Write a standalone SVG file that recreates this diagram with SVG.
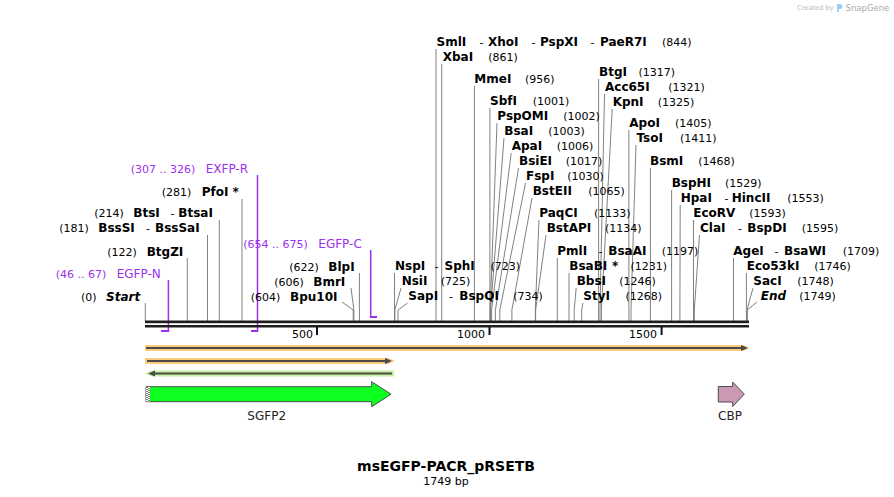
<svg xmlns="http://www.w3.org/2000/svg" width="894" height="497" viewBox="0 0 894 497">
<style>
text { font-family: "DejaVu Sans", Verdana, sans-serif; fill:#000; }
.e { font-size:12px; font-weight:bold; }
.ei { font-size:12px; font-weight:bold; font-style:italic; }
.c { font-size:11px; }
.pn { font-size:11px; fill:#9b30f0; }
.pl { font-size:12px; fill:#9b30f0; }
.cut { fill:none; stroke:#808080; stroke-width:1; }
.pb { fill:none; stroke:#9b30f0; stroke-width:1.5; }
.pbh { fill:none; stroke:#9b30f0; stroke-width:2; }
.tick { stroke:#111; stroke-width:2; }
.num { font-size:11px; text-anchor:end; }
.fl { font-size:12px; text-anchor:middle; fill:#222; }
.axl { fill:none; stroke:#4a4a4a; stroke-width:2; }
</style>
<rect width="894" height="497" fill="#fff"/>

<g id="watermark">
<text x="797" y="10" style="font-size:6.7px;fill:#bbb">Created by</text>
<path d="M837,4 h3 a2.5,2.5 0 0 1 0,5 h-1.2 v3 h-1.8 z" fill="#9fd0f0"/>
<text x="845.5" y="10.5" style="font-size:8.5px;fill:#aaa">SnapGene</text>
</g>

<g id="connectors">
<path class="cut" d="M436,49 V321"/>
<path class="cut" d="M441.7,64 V321"/>
<path class="cut" d="M474.4,86 V321"/>
<path class="cut" d="M489.9,108 V321"/>
<path class="cut" d="M497,123 L490.2,310 V321"/>
<path class="cut" d="M504,138 L490.5,310 V321"/>
<path class="cut" d="M511.2,153 L491.6,310 V321"/>
<path class="cut" d="M518.5,168 L495.4,310 V321"/>
<path class="cut" d="M525.5,183 L499.8,310 V321"/>
<path class="cut" d="M532,198 L511.9,310 V321"/>
<path class="cut" d="M539,220 L535.3,310 V321"/>
<path class="cut" d="M546,235 L535.6,310 V321"/>
<path class="cut" d="M557.3,258 V321"/>
<path class="cut" d="M569,273 V321"/>
<path class="cut" d="M576.2,288 L574.2,310 V321"/>
<path class="cut" d="M583,303 L581.7,310 V321"/>
<path class="cut" d="M598.6,79 V321"/>
<path class="cut" d="M604.5,94 L600,310 V321"/>
<path class="cut" d="M612.2,109 L601.4,310 V321"/>
<path class="cut" d="M628.9,130 V321"/>
<path class="cut" d="M636,145 L631,310 V321"/>
<path class="cut" d="M650.4,168 V321"/>
<path class="cut" d="M671.6,190 V321"/>
<path class="cut" d="M680.2,205 L679.9,310 V321"/>
<path class="cut" d="M693.5,220 V321"/>
<path class="cut" d="M699.5,235 L694.3,310 V321"/>
<path class="cut" d="M733.5,258 V321"/>
<path class="cut" d="M746.4,273 V321"/>
<path class="cut" d="M753,288 L747,310 V321"/>
<path class="cut" d="M757,302 L747.3,310 V321"/>
<path class="cut" d="M394.5,273 V321"/>
<path class="cut" d="M401,288 L394.9,310 V321"/>
<path class="cut" d="M407.5,303 L398,310 V321"/>
<path class="cut" d="M145.3,303 V321"/>
<path class="cut" d="M187.3,258 V321"/>
<path class="cut" d="M207.5,235 V321"/>
<path class="cut" d="M219.3,220 V321"/>
<path class="cut" d="M242,199 V321"/>
<path class="cut" d="M342,302 L353.2,310 V321"/>
<path class="cut" d="M351,288 L353.9,310 V321"/>
<path class="cut" d="M359.4,273 V321"/>
<path class="pb" d="M168.4,280 V331"/><path class="pbh" d="M169.2,331 H161"/>
<path class="pb" d="M257.5,175 V331"/><path class="pbh" d="M258.3,331 H251"/>
<path class="pb" d="M370.7,250 V317"/><path class="pbh" d="M369.9,317 H377"/>
</g>

<g id="backbone">
<rect x="145" y="320.5" width="604" height="2.7" fill="#1e1e1e"/>
<rect x="145" y="325" width="604" height="2.5" fill="#1e1e1e"/>
<line class="tick" x1="317" y1="327" x2="317" y2="335"/>
<line class="tick" x1="489.5" y1="327" x2="489.5" y2="335"/>
<line class="tick" x1="661.6" y1="327" x2="661.6" y2="335"/>
<text class="num" x="313" y="337.5">500</text>
<text class="num" x="485" y="337.5">1000</text>
<text class="num" x="657" y="337.5">1500</text>
</g>

<g id="site-SmlI"><text class="e" x="436.5" y="46">SmlI</text><text class="c" x="479.5" y="46">-</text><text class="e" x="488" y="46">XhoI</text><text class="c" x="531.5" y="46">-</text><text class="e" x="540" y="46">PspXI</text><text class="c" x="590.5" y="46">-</text><text class="e" x="600" y="46">PaeR7I</text><text class="c" x="662" y="46">(844)</text></g>
<g id="site-XbaI"><text class="e" x="442.7" y="61">XbaI</text><text class="c" x="488.3" y="61">(861)</text></g>
<g id="site-MmeI"><text class="e" x="474.3" y="83">MmeI</text><text class="c" x="525" y="83">(956)</text></g>
<g id="site-SbfI"><text class="e" x="490" y="105">SbfI</text><text class="c" x="532.7" y="105">(1001)</text></g>
<g id="site-PspOMI"><text class="e" x="497.3" y="120">PspOMI</text><text class="c" x="563.3" y="120">(1002)</text></g>
<g id="site-BsaI"><text class="e" x="504.3" y="135">BsaI</text><text class="c" x="548.3" y="135">(1003)</text></g>
<g id="site-ApaI"><text class="e" x="511.7" y="150">ApaI</text><text class="c" x="556.7" y="150">(1006)</text></g>
<g id="site-BsiEI"><text class="e" x="519" y="165">BsiEI</text><text class="c" x="565.7" y="165">(1017)</text></g>
<g id="site-FspI"><text class="e" x="526" y="180">FspI</text><text class="c" x="567.3" y="180">(1030)</text></g>
<g id="site-BstEII"><text class="e" x="532.7" y="195">BstEII</text><text class="c" x="588.3" y="195">(1065)</text></g>
<g id="site-PaqCI"><text class="e" x="539.3" y="217">PaqCI</text><text class="c" x="594" y="217">(1133)</text></g>
<g id="site-BstAPI"><text class="e" x="546.7" y="232">BstAPI</text><text class="c" x="605" y="232">(1134)</text></g>
<g id="site-PmlI"><text class="e" x="557.3" y="255">PmlI</text><text class="c" x="598.5" y="255">-</text><text class="e" x="608.3" y="255">BsaAI</text><text class="c" x="661.7" y="255">(1197)</text></g>
<g id="site-BsaBI"><text class="e" x="569.3" y="270">BsaBI</text><text class="e" x="612" y="270">*</text><text class="c" x="630.5" y="270">(1231)</text></g>
<g id="site-BbsI"><text class="e" x="576.7" y="285">BbsI</text><text class="c" x="619.3" y="285">(1246)</text></g>
<g id="site-StyI"><text class="e" x="583.3" y="300">StyI</text><text class="c" x="625.5" y="300">(1268)</text></g>
<g id="site-BtgI"><text class="e" x="599" y="76">BtgI</text><text class="c" x="638.5" y="76">(1317)</text></g>
<g id="site-Acc65I"><text class="e" x="605" y="91">Acc65I</text><text class="c" x="668.3" y="91">(1321)</text></g>
<g id="site-KpnI"><text class="e" x="612.7" y="106">KpnI</text><text class="c" x="657.7" y="106">(1325)</text></g>
<g id="site-ApoI"><text class="e" x="629.3" y="127">ApoI</text><text class="c" x="675" y="127">(1405)</text></g>
<g id="site-TsoI"><text class="e" x="636.5" y="142">TsoI</text><text class="c" x="680" y="142">(1411)</text></g>
<g id="site-BsmI"><text class="e" x="650" y="165">BsmI</text><text class="c" x="698.3" y="165">(1468)</text></g>
<g id="site-BspHI"><text class="e" x="671.7" y="187">BspHI</text><text class="c" x="725" y="187">(1529)</text></g>
<g id="site-HpaI"><text class="e" x="680.7" y="202">HpaI</text><text class="c" x="724.5" y="202">-</text><text class="e" x="731.7" y="202">HincII</text><text class="c" x="787.3" y="202">(1553)</text></g>
<g id="site-EcoRV"><text class="e" x="693.3" y="217">EcoRV</text><text class="c" x="749.3" y="217">(1593)</text></g>
<g id="site-ClaI"><text class="e" x="700" y="232">ClaI</text><text class="c" x="738" y="232">-</text><text class="e" x="747.3" y="232">BspDI</text><text class="c" x="801.7" y="232">(1595)</text></g>
<g id="site-AgeI"><text class="e" x="733.3" y="255">AgeI</text><text class="c" x="774.5" y="255">-</text><text class="e" x="784" y="255">BsaWI</text><text class="c" x="842.7" y="255">(1709)</text></g>
<g id="site-Eco53kI"><text class="e" x="746.7" y="270">Eco53kI</text><text class="c" x="814.3" y="270">(1746)</text></g>
<g id="site-SacI"><text class="e" x="753.3" y="285">SacI</text><text class="c" x="797.3" y="285">(1748)</text></g>
<g id="site-End"><text class="ei" x="760.7" y="300">End</text><text class="c" x="799.3" y="300">(1749)</text></g>
<g id="site-NspI"><text class="e" x="395" y="270">NspI</text><text class="c" x="434.5" y="270">-</text><text class="e" x="444.5" y="270">SphI</text><text class="c" x="490.5" y="270">(723)</text></g>
<g id="site-NsiI"><text class="e" x="401.7" y="285">NsiI</text><text class="c" x="440.7" y="285">(725)</text></g>
<g id="site-SapI"><text class="e" x="408.3" y="300">SapI</text><text class="c" x="449" y="300">-</text><text class="e" x="459.3" y="300">BspQI</text><text class="c" x="513.3" y="300">(734)</text></g>

<g id="site-Start"><text class="c" x="81" y="301">(0)</text><text class="ei" x="106" y="301">Start</text></g>
<g id="site-BtgZI"><text class="c" x="107.3" y="256">(122)</text><text class="e" x="146.7" y="256">BtgZI</text></g>
<g id="site-BssSI"><text class="c" x="59.3" y="232">(181)</text><text class="e" x="98.3" y="232">BssSI</text><text class="c" x="146" y="232">-</text><text class="e" x="155" y="232">BssSaI</text></g>
<g id="site-BtsI"><text class="c" x="94.3" y="217">(214)</text><text class="e" x="133.3" y="217">BtsI</text><text class="c" x="170.5" y="217">-</text><text class="e" x="178.3" y="217">BtsaI</text></g>
<g id="site-PfoI"><text class="c" x="161.7" y="196">(281)</text><text class="e" x="201.7" y="196">PfoI</text><text class="e" x="232.5" y="196">*</text></g>
<g id="site-Bpu10I"><text class="c" x="250.7" y="301">(604)</text><text class="e" x="290" y="301">Bpu10I</text></g>
<g id="site-BmrI"><text class="c" x="274.3" y="286">(606)</text><text class="e" x="313.3" y="286">BmrI</text></g>
<g id="site-BlpI"><text class="c" x="289.3" y="271">(622)</text><text class="e" x="328.3" y="271">BlpI</text></g>

<g id="primer-EGFP-N"><text class="pn" x="55.7" y="278">(46 .. 67)</text><text class="pl" x="116.7" y="278">EGFP-N</text></g>
<g id="primer-EXFP-R"><text class="pn" x="130.7" y="172.5">(307 .. 326)</text><text class="pl" x="205.7" y="172.5">EXFP-R</text></g>
<g id="primer-EGFP-C"><text class="pn" x="243.3" y="248">(654 .. 675)</text><text class="pl" x="318.3" y="248">EGFP-C</text></g>

<g id="orf-1">
<path d="M145,345 H743 L750,348 L743,351 H145 Z" fill="#fcca7d"/>
<line class="axl" x1="146" y1="348" x2="743" y2="348"/>
<path d="M741,345 L748,348 L741,351 Z" fill="#4a4a4a"/>
</g>
<g id="orf-2">
<path d="M145,358 H388 L395,361 L388,364 H145 Z" fill="#fcca7d"/>
<line class="axl" x1="147" y1="361" x2="387" y2="361"/>
<path d="M385,358 L392,361 L385,364 Z" fill="#4a4a4a"/>
</g>
<g id="orf-3">
<path d="M145,373.5 L152,370.5 H394 V376.5 H152 Z" fill="#c4efa0"/>
<line class="axl" x1="153" y1="373.5" x2="392" y2="373.5"/>
<path d="M155,370.5 L148,373.5 L155,376.5 Z" fill="#4a4a4a"/>
</g>

<g id="feature-SGFP2">
<path d="M146,386.7 H371.7 V381.7 L391,394.2 L371.7,406.7 V401.7 H146 Z" fill="#0dff1f" stroke="#4d4d4d" stroke-width="1"/>
<rect x="146" y="387" width="4" height="14.5" fill="#fff"/>
<line x1="147" y1="387" x2="147" y2="401.5" stroke="#000" stroke-width="1" stroke-dasharray="1,1"/>
<line x1="149" y1="388" x2="149" y2="401.5" stroke="#000" stroke-width="1" stroke-dasharray="1,1"/>
<text class="fl" x="266.7" y="419.5">SGFP2</text>
</g>
<g id="feature-CBP">
<path d="M718.3,386.5 H732.7 V382 L744.3,394.2 L732.7,406.5 V402 H718.3 Z" fill="#cc99b4" stroke="#4d4d4d" stroke-width="1"/>
<text class="fl" x="730" y="419.5">CBP</text>
</g>

<g id="title">
<text x="446" y="471" style="font-size:14px;font-weight:bold;text-anchor:middle">msEGFP-PACR_pRSETB</text>
<text x="446" y="485" style="font-size:11px;text-anchor:middle">1749 bp</text>
</g>
</svg>
